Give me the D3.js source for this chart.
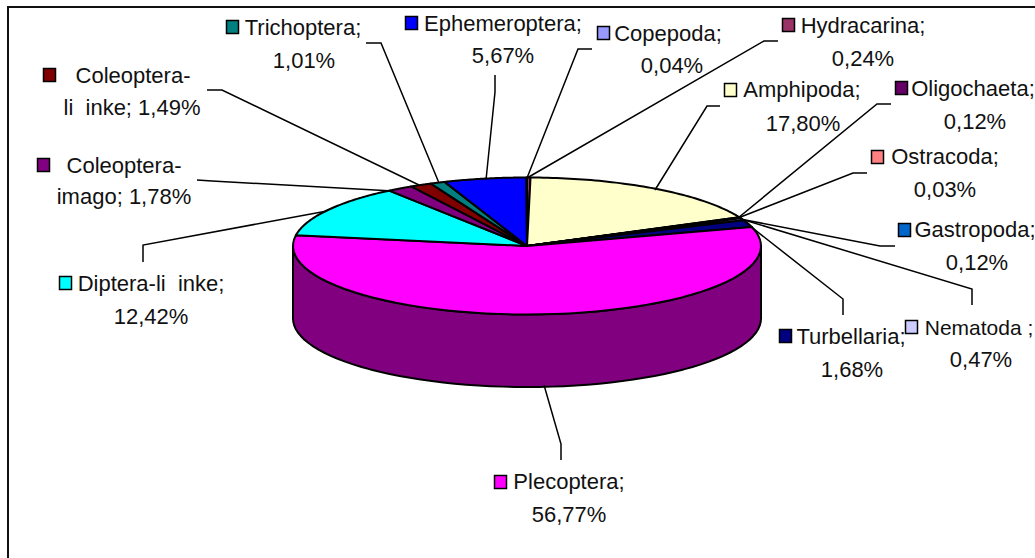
<!DOCTYPE html>
<html><head><meta charset="utf-8">
<script src="https://cdn.jsdelivr.net/npm/d3@7"></script>
<style>html,body{margin:0;background:#fff;overflow:hidden}svg{display:block}text{font-family:"Liberation Sans",Arial,sans-serif;font-size:22px;fill:#111;white-space:pre}</style>
</head><body><svg id="c" width="1035" height="558"></svg>
<script>
const categories=["Hydracarina","Amphipoda","Oligochaeta","Ostracoda","Gastropoda","Nematoda ","Turbellaria","Plecoptera","Diptera-li  inke","Coleoptera-imago","Coleoptera-li  inke","Trichoptera","Ephemeroptera","Copepoda"];
const values=[0.24,17.80,0.12,0.03,0.12,0.47,1.68,56.77,12.42,1.78,1.49,1.01,5.67,0.04];
const valueLabels=["0,24%","17,80%","0,12%","0,03%","0,12%","0,47%","1,68%","56,77%","12,42%","1,78%","1,49%","1,01%","5,67%","0,04%"];
const colors=["#993366","#FFFFCC","#660066","#FF8080","#0066CC","#CCCCFF","#000080","#FF00FF","#00FFFF","#800080","#800000","#008080","#0000FF","#9999FF"];
const labelLayout=[
 {m:[782,18],l:[["Hydracarina;",863],["0,24%",863]],y:[33,66]},
 {m:[724,83],l:[["Amphipoda;",802],["17,80%",803]],y:[97,131]},
 {m:[895,81],l:[["Oligochaeta;",973],["0,12%",975]],y:[96,129]},
 {m:[871,150],l:[["Ostracoda;",945],["0,03%",945]],y:[164,197]},
 {m:[898,223],l:[["Gastropoda;",975],["0,12%",977]],y:[237,270]},
 {m:[905,320],l:[["Nematoda ;",979],["0,47%",981]],y:[335,367],fs:21},
 {m:[779,329],l:[["Turbellaria;",851],["1,68%",852]],y:[344,377]},
 {m:[494,475],l:[["Plecoptera;",569],["56,77%",569]],y:[489,522]},
 {m:[59,276],l:[["Diptera-li  inke;",151],["12,42%",151]],y:[291,324]},
 {m:[37,158],l:[["Coleoptera-",124],["imago; 1,78%",124]],y:[173,204]},
 {m:[43,68],l:[["Coleoptera-",133],["li  inke; 1,49%",132]],y:[83,115]},
 {m:[226,20],l:[["Trichoptera;",303],["1,01%",304]],y:[35,68]},
 {m:[405,16],l:[["Ephemeroptera;",503],["5,67%",503]],y:[31,63]},
 {m:[597,26],l:[["Copepoda;",668],["0,04%",672]],y:[41,73]}
];
const leaders=[
 [[778,41],[764,41],[527,178]],
 [[720,106],[707,106],[655,190]],
 [[891,104],[877,104],[738,218]],
 [[867,173],[853,173],[738,218]],
 [[895,246],[880,246],[740,219]],
 [[972,305],[972,289],[741,219]],
 [[843,315],[843,299],[745,222]],
 [[544,385],[561,444],[561,460]],
 [[143,262],[143,245],[327,211]],
 [[197,180],[212,181],[393,191]],
 [[207,90],[222,90],[419,185]],
 [[366,43],[381,43],[439,183]],
 [[495,75],[495,92],[486,180]],
 [[592,49],[578,49],[527,178]]
];
const cx=527,cy=246,rx=234,ry=68.5,depth=72.5;
const svg=d3.select("#c");
svg.append("path").attr("d","M8,558V7H1035").attr("fill","none").attr("stroke","#111").attr("stroke-width",2);
const arcs=d3.pie().sort(null)(values);
const px=a=>cx+rx*Math.sin(a), py=a=>cy-ry*Math.cos(a);
const sidePoints=(a0,a1)=>d3.range(0,61).map(i=>a0+(a1-a0)*i/60);
const line=d3.line();
const shade=c=>{const k=d3.rgb(c);return d3.rgb(k.r*.5,k.g*.5,k.b*.5).formatHex();};
arcs.forEach((d,i)=>{
  const a0=Math.max(d.startAngle,Math.PI/2),a1=Math.min(d.endAngle,Math.PI*1.5);
  if(a1<=a0)return;
  const top=sidePoints(a0,a1).map(a=>[px(a),py(a)]);
  const bot=top.slice().reverse().map(p=>[p[0],p[1]+depth]);
  svg.append("path").attr("d",line(top.concat(bot))+"Z").attr("fill",shade(colors[i])).attr("stroke","#000").attr("stroke-width",2).attr("stroke-linejoin","round");
});
arcs.forEach((d,i)=>{
  const pts=[[cx,cy]].concat(sidePoints(d.startAngle,d.endAngle).map(a=>[px(a),py(a)]));
  svg.append("path").attr("d",line(pts)+"Z").attr("fill",colors[i]).attr("stroke","#000").attr("stroke-width",2).attr("stroke-linejoin","round");
});
leaders.forEach(l=>svg.append("path").attr("d",line(l)).attr("fill","none").attr("stroke","#000").attr("stroke-width",1.5));
labelLayout.forEach((o,i)=>{
  svg.append("rect").attr("x",o.m[0]+.5).attr("y",o.m[1]+.5).attr("width",12).attr("height",13).attr("fill",colors[i]).attr("stroke","#000").attr("stroke-width",1.5);
  o.l.forEach((t,j)=>{
    const s=svg.append("text").attr("x",t[1]).attr("y",o.y[j]).attr("text-anchor","middle").text(t[0]);
    if(o.fs&&j===0)s.style("font-size",o.fs+"px");
  });
});
</script></body></html>
